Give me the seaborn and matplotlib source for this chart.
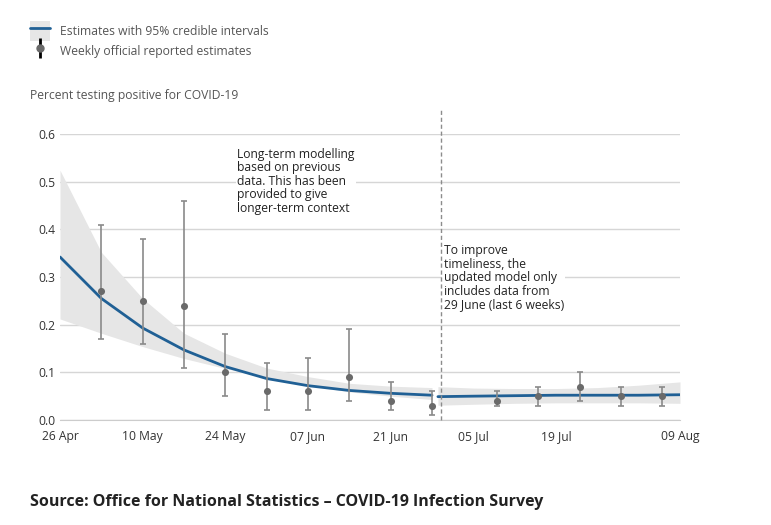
import pandas as pd
import matplotlib.pyplot as plt
import matplotlib.dates as mdates
import seaborn as sns
from matplotlib.lines import Line2D
from matplotlib.patches import Patch
from matplotlib.ticker import MultipleLocator, FormatStrFormatter

# Modelo de largo plazo (hasta 28 Jun)
long_dates = ['2021-04-26', '2021-05-03', '2021-05-10', '2021-05-17', '2021-05-24',
              '2021-05-31', '2021-06-07', '2021-06-14', '2021-06-21', '2021-06-28']
long_mid = [0.342, 0.255, 0.193, 0.147, 0.112, 0.087, 0.072, 0.062, 0.056, 0.052]
long_low = [0.212, 0.182, 0.154, 0.129, 0.108, 0.089, 0.073, 0.059, 0.050, 0.043]
long_high = [0.524, 0.352, 0.255, 0.182, 0.140, 0.109, 0.091, 0.077, 0.071, 0.068]

# Modelo actualizado (desde 29 Jun)
new_dates = ['2021-06-29', '2021-07-05', '2021-07-12', '2021-07-19', '2021-07-26',
             '2021-08-02', '2021-08-09']
new_mid = [0.049, 0.050, 0.051, 0.052, 0.052, 0.052, 0.053]
new_low = [0.031, 0.033, 0.035, 0.036, 0.036, 0.036, 0.035]
new_high = [0.070, 0.067, 0.066, 0.066, 0.068, 0.073, 0.080]

# Estimaciones semanales oficiales
week_dates = ['2021-05-03', '2021-05-10', '2021-05-17', '2021-05-24', '2021-05-31',
              '2021-06-07', '2021-06-14', '2021-06-21', '2021-06-28',
              '2021-07-09', '2021-07-16', '2021-07-23', '2021-07-30', '2021-08-06']
week_val = [0.27, 0.25, 0.24, 0.10, 0.06, 0.06, 0.09, 0.04, 0.03,
            0.04, 0.05, 0.07, 0.05, 0.05]
week_low = [0.17, 0.16, 0.11, 0.05, 0.02, 0.02, 0.04, 0.02, 0.01,
            0.03, 0.03, 0.04, 0.03, 0.03]
week_high = [0.41, 0.38, 0.46, 0.18, 0.12, 0.13, 0.19, 0.08, 0.06,
             0.06, 0.07, 0.10, 0.07, 0.07]

tick_dates = ['2021-04-26', '2021-05-10', '2021-05-24', '2021-06-07', '2021-06-21',
              '2021-07-05', '2021-07-19', '2021-08-09']
cutoff_date = '2021-06-29 12:00'

BLUE = '#206095'
BAND = '#e6e6e6'
GREY = '#6a6a6a'
FS = 8.7

sns.set_style('white')
plt.rcParams['font.family'] = ['Open Sans', 'DejaVu Sans']

long_df = pd.DataFrame({'date': pd.to_datetime(long_dates), 'mid': long_mid,
                        'low': long_low, 'high': long_high})
new_df = pd.DataFrame({'date': pd.to_datetime(new_dates), 'mid': new_mid,
                       'low': new_low, 'high': new_high})
week_df = pd.DataFrame({'date': pd.to_datetime(week_dates), 'val': week_val,
                        'low': week_low, 'high': week_high})

fig = plt.figure(figsize=(7.71, 5.25), dpi=100)
ax = fig.add_axes([60 / 771, 105 / 525, 620 / 771, 286 / 525])

for df in (long_df, new_df):
    ax.fill_between(df['date'], df['low'], df['high'], color=BAND, lw=0, zorder=1)
    sns.lineplot(data=df, x='date', y='mid', color=BLUE, lw=2, ax=ax, zorder=3)

ax.errorbar(week_df['date'], week_df['val'],
            yerr=[week_df['val'] - week_df['low'], week_df['high'] - week_df['val']],
            fmt='none', ecolor='#8a8a8a', elinewidth=1.2, capsize=2.5, capthick=1.2, zorder=4)
sns.scatterplot(data=week_df, x='date', y='val', color=GREY, s=26, linewidth=0,
                ax=ax, zorder=5)

ax.axvline(pd.Timestamp(cutoff_date), ymin=0, ymax=(420 - 110) / 286, clip_on=False,
           color='#8c8c8c', lw=1, dashes=(3, 2), zorder=6)

ax.set_xlim(pd.Timestamp(tick_dates[0]), pd.Timestamp(tick_dates[-1]))
ax.set_ylim(0, 0.6)
ax.yaxis.set_major_locator(MultipleLocator(0.1))
ax.yaxis.set_major_formatter(FormatStrFormatter('%.1f'))
ax.set_xticks(pd.to_datetime(tick_dates))
ax.xaxis.set_major_formatter(mdates.DateFormatter('%d %b'))
ax.set_xlabel('')
ax.set_ylabel('')

ax.grid(axis='y', color='#d6d6d6', lw=1)
ax.set_axisbelow(True)
for s in ('top', 'right', 'left'):
    ax.spines[s].set_visible(False)
ax.spines['bottom'].set_color('#cccccc')
ax.tick_params(axis='x', length=5, color='#cccccc', labelsize=FS, labelcolor='#333333', pad=2)
ax.tick_params(axis='y', length=0, labelsize=FS, labelcolor='#333333', pad=3)

ax.text(pd.Timestamp('2021-05-26'), 0.571,
        'Long-term modelling\nbased on previous\ndata. This has been\nprovided to give\nlonger-term context',
        va='top', ha='left', fontsize=FS, color='#222222', linespacing=1.05, zorder=7,
        bbox=dict(facecolor='white', edgecolor='none', pad=1))
ax.text(pd.Timestamp('2021-06-30'), 0.369,
        'To improve\ntimeliness, the\nupdated model only\nincludes data from\n29 June (last 6 weeks)',
        va='top', ha='left', fontsize=FS, color='#222222', linespacing=1.05, zorder=5,
        bbox=dict(facecolor='white', edgecolor='none', pad=1))

handles = [
    (Patch(facecolor=BAND, edgecolor='none'), Line2D([], [], color=BLUE, lw=2)),
    (Line2D([], [], marker='|', ms=15, mew=2, color='black', ls='none'),
     Line2D([], [], marker='o', ms=5, color=GREY, ls='none')),
]
fig.legend(handles, ['Estimates with 95% credible intervals', 'Weekly official reported estimates'],
           loc='upper left', bbox_to_anchor=(30 / 771, 1 - 21 / 525), frameon=False,
           borderpad=0, borderaxespad=0, handlelength=1.65, handleheight=2.17,
           handletextpad=0.83, labelspacing=0.0, fontsize=FS, labelcolor='#555555')

fig.text(30 / 771, 1 - 96 / 525, 'Percent testing positive for COVID-19',
         fontsize=FS, color='#555555', va='center')
fig.text(30 / 771, 1 - 502 / 525,
         'Source: Office for National Statistics \u2013 COVID-19 Infection Survey',
         fontsize=11.5, fontweight='bold', color='#222222', va='center')

plt.savefig('out.png', dpi=100)
